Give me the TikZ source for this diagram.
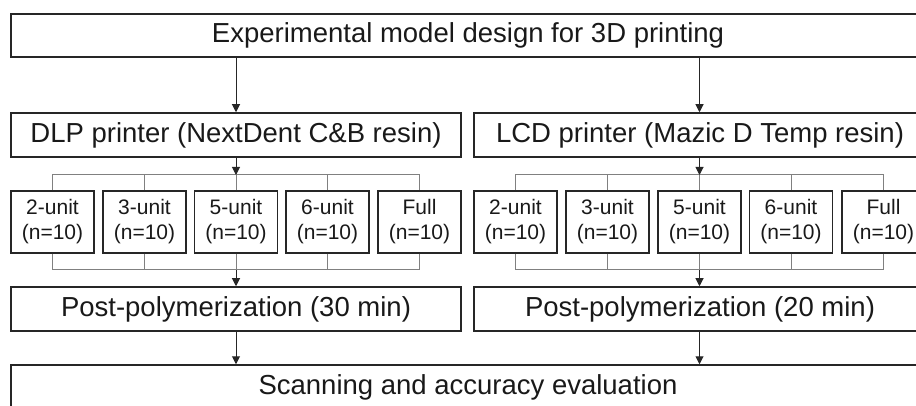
\documentclass[tikz,border=0pt]{standalone}
\usepackage{fontspec}
\setmainfont{Liberation Sans}
\usetikzlibrary{arrows.meta}

\tikzset{
    box/.style={rectangle, draw=black!85, line width=1.5pt, inner sep=0pt, text=black!90, font=\fontsize{27.5}{30}\selectfont},
    unitbox/.style={box, minimum width=83pt, minimum height=62pt, align=center, font=\fontsize{21}{25}\selectfont},
    flow/.style={draw=black!85, line width=1pt, -{Triangle[width=8pt,length=8pt]}},
    branch/.style={draw=black!50, line width=1pt}
}

\begin{document}
\begin{tikzpicture}[x=1pt, y=-1pt]
    \useasboundingbox (0,0) rectangle (916,406);
    \clip (0,0) rectangle (916,406);

    % Draw the top and bottom boxes
    \node[box, minimum width=914pt, minimum height=43pt] (design) at (468, 35.5) {Experimental model design for 3D printing};
    \node[box, minimum width=914pt, minimum height=44pt] (scan) at (468, 387) {Scanning and accuracy evaluation};

    % Draw the two printers
    \node[box, minimum width=450pt, minimum height=44pt] (dlp) at (236, 135) {DLP printer (NextDent C\&B resin)};
    \node[box, minimum width=452pt, minimum height=44pt] (lcd) at (700, 135) {LCD printer (Mazic D Temp resin)};

    % Draw nodes for the DLP groups
    \node[unitbox] (d1) at (52.5, 222) {2-unit\\(n=10)};
    \node[unitbox] (d2) at (144.5, 222) {3-unit\\(n=10)};
    \node[unitbox] (d3) at (236, 222) {5-unit\\(n=10)};
    \node[unitbox] (d4) at (327.5, 222) {6-unit\\(n=10)};
    \node[unitbox] (d5) at (419.5, 222) {Full\\(n=10)};

    % Draw nodes for the LCD groups
    \node[unitbox] (l1) at (515.5, 222) {2-unit\\(n=10)};
    \node[unitbox] (l2) at (607.5, 222) {3-unit\\(n=10)};
    \node[unitbox] (l3) at (699.5, 222) {5-unit\\(n=10)};
    \node[unitbox] (l4) at (791, 222) {6-unit\\(n=10)};
    \node[unitbox] (l5) at (883.5, 222) {Full\\(n=10)};

    % Draw the post-polymerization steps
    \node[box, minimum width=450pt, minimum height=44pt] (dpost) at (236, 309) {Post-polymerization (30 min)};
    \node[box, minimum width=452pt, minimum height=44pt] (lpost) at (700, 309) {Post-polymerization (20 min)};

    % Split and join points of the brackets
    \coordinate (dsplit) at (236, 175);
    \coordinate (djoin) at (236, 270);
    \coordinate (lsplit) at (699.5, 175);
    \coordinate (ljoin) at (699.5, 270);

    % Draw the brackets
    \foreach \i in {1,...,5} {
        \draw[branch] (d\i.north) |- (dsplit);
        \draw[branch] (d\i.south) |- (djoin);
        \draw[branch] (l\i.north) |- (lsplit);
        \draw[branch] (l\i.south) |- (ljoin);
    }

    % Draw the arrows
    \draw[flow] (design.south -| dlp.north) -- (dlp.north);
    \draw[flow] (design.south -| lsplit) -- (lcd.north -| lsplit);
    \draw[flow] (dlp.south) -- (dsplit);
    \draw[flow] (lcd.south -| lsplit) -- (lsplit);
    \draw[flow] (djoin) -- (dpost.north);
    \draw[flow] (ljoin) -- (lpost.north -| ljoin);
    \draw[flow] (dpost.south) -- (scan.north -| dpost.south);
    \draw[flow] (lpost.south -| ljoin) -- (scan.north -| ljoin);
\end{tikzpicture}
\end{document}
